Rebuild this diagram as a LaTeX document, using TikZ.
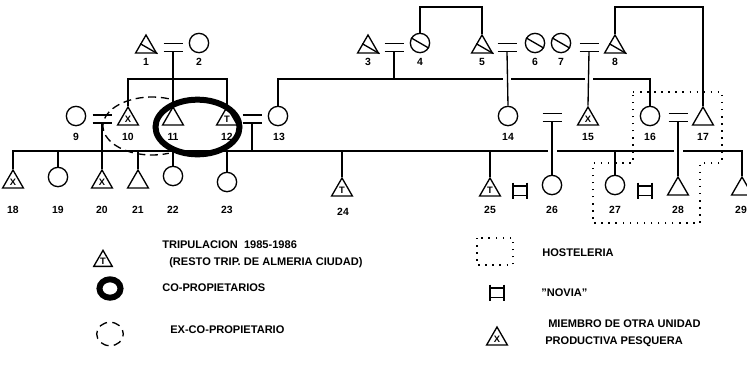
\documentclass[tikz,border=0pt]{standalone}
\usepackage{fontspec}
\setmainfont{Liberation Sans}
\usetikzlibrary{shapes.geometric,calc}
\begin{document}
\begin{tikzpicture}[x=0.75pt,y=-0.75pt,
  ln/.style={line width=1pt},
  tri/.style={draw, line width=1pt, regular polygon, regular polygon sides=3, minimum size=18pt, inner sep=0pt, font=\bfseries\fontsize{7}{7}\selectfont},
  smalltri/.style={tri, minimum size=16pt},
  circ/.style={draw, line width=1pt, circle, minimum size=14.5pt, inner sep=0pt},
  num/.style={font=\bfseries\fontsize{7.8}{8}\selectfont, inner sep=0pt},
  leg/.style={font=\bfseries\fontsize{8.3}{9}\selectfont, anchor=west, inner sep=0pt},
  hostel/.style={line width=1.2pt, dash pattern=on 1.1pt off 4.2pt},
  gapw/.style={white, line width=4pt},
  coprop/.style={line width=4.5pt},
  excoprop/.style={line width=1pt, dash pattern=on 6pt off 3.5pt},
  marr/.pic={\draw[line width=1pt] (-9.5,-4) -- (9.5,-4) (-9.5,4) -- (9.5,4); \coordinate (-b) at (0,4);},
  novia/.pic={\draw[line width=1pt] (-7,-8) -- (-7,8) (7,-8) -- (7,8) (-7,-4.5) -- (7,-4.5) (-7,5) -- (7,5);}
]
\useasboundingbox (0,0) rectangle (747,365);
\newcommand\lowtxt[1]{\raisebox{-1.3pt}{#1}}

% ---------- generation 0 ----------
\node[tri] (t1) at (146,47) {};
\node[circ] (c2) at (199,43) {};
\node[tri] (t3) at (368,47) {};
\node[circ] (c4) at (420,43) {};
\node[tri] (t5) at (482,47) {};
\node[circ] (c6) at (535,43) {};
\node[circ] (c7) at (561,43) {};
\node[tri] (t8) at (615,47) {};
\foreach \n in {t1,t3,t5,t8}{\draw[ln] ($(\n.corner 1)!0.5!(\n.corner 2)$) -- (\n.corner 3);}
\foreach \n in {c4,c6,c7}{\draw[ln] (\n.150) -- (\n.-30);}
\node[num] (l1) at (146,62) {1};
\node[num] (l2) at (199,62) {2};
\node[num] (l3) at (368,62) {3};
\node[num] (l4) at (420,62) {4};
\node[num] (l5) at (482,62) {5};
\node[num] (l6) at (535,62) {6};
\node[num] (l7) at (561,62) {7};
\node[num] (l8) at (615,62) {8};
\pic (m12) at (173,47.5) {marr};
\pic (m34) at (394,47.5) {marr};
\pic (m56) at (507,47.5) {marr};
\pic (m78) at (589,47.5) {marr};

% ---------- generation 1 ----------
\node[circ] (c9) at (76,116) {};
\node[tri] (t10) at (128,119) {\lowtxt{X}};
\node[tri] (t11) at (173,119) {};
\node[tri] (t12) at (227,119) {\lowtxt{T}};
\node[circ] (c13) at (278,116) {};
\node[circ] (c14) at (508,116) {};
\node[tri] (t15) at (588,119) {\lowtxt{X}};
\node[circ] (c16) at (650,116) {};
\node[tri] (t17) at (703,119) {};
\node[num] (l9) at (76,137) {9};
\node[num] (l10) at (128,137) {10};
\node[num] (l11) at (173,137) {11};
\node[num] (l12) at (227,137) {12};
\node[num] (l13) at (279,137) {13};
\node[num] (l14) at (508,137) {14};
\node[num] (l15) at (588,137) {15};
\node[num] (l16) at (650,137) {16};
\node[num] (l17) at (703,137) {17};
\pic (m910) at (102,119) {marr};
\pic (m1213) at (252,119) {marr};
\pic (m1415) at (552,117.5) {marr};
\pic (m1617) at (678,117.5) {marr};

% ---------- generation 2 ----------
\node[tri] (t18) at (13,182) {\lowtxt{X}};
\node[circ] (c19) at (58,177) {};
\node[tri] (t20) at (102,182) {\lowtxt{X}};
\node[tri] (t21) at (138,182) {};
\node[circ] (c22) at (173,176) {};
\node[circ] (c23) at (227,182) {};
\node[tri] (t24) at (342,190) {\lowtxt{T}};
\node[tri] (t25) at (490,190) {\lowtxt{T}};
\node[circ] (c26) at (552,185) {};
\node[circ] (c27) at (615,185) {};
\node[tri] (t28) at (678,189) {};
\node[tri] (t29) at (742,189) {};
\node[num] (l18) at (13,210) {18};
\node[num] (l19) at (58,210) {19};
\node[num] (l20) at (102,210) {20};
\node[num] (l21) at (138,210) {21};
\node[num] (l22) at (173,210) {22};
\node[num] (l23) at (227,210) {23};
\node[num] (l24) at (343,212) {24};
\node[num] (l25) at (490,210) {25};
\node[num] (l26) at (552,210) {26};
\node[num] (l27) at (615,210) {27};
\node[num] (l28) at (678,210) {28};
\node[num] (l29) at (741,210) {29};
\pic (n1) at (520,190.5) {novia};
\pic (n2) at (645,190.5) {novia};

% ---------- connectors ----------
\coordinate (s1) at (173,79);
\coordinate (s2) at (394,79);
\coordinate (s3) at (451,7);
\coordinate (s4) at (660,7);
\coordinate (s5) at (252,151);

\draw[ln] (m12-b) -- (t11.corner 1);
\draw[ln] (t10.corner 1) |- (s1) -| (t12.corner 1);
\draw[ln] (c4.north) |- (s3) -| (t5.corner 1);
\draw[ln] (t8.corner 1) |- (s4) -| (t17.corner 1);
\draw[ln] (m34-b) -- (s2);
\draw[ln] (c13.north) |- (s2) -| (c16.north);
\draw[gapw] (503,79) -- (511,79);
\draw[gapw] (585,79) -- (593,79);
\draw[ln] (m56-b) -- (c14.north);
\draw[ln] (m78-b) -- (t15.corner 1);

\draw[ln] (t18.corner 1) |- (s5) -| (t29.corner 1);
\draw[ln] (m910-b) -- (t20.corner 1);
\draw[ln] (m1213-b) -- (s5);
\foreach \n in {c19,c22,c23,c27}{\draw[ln] (\n.north) -- (\n.north |- s5);}
\foreach \n in {t21,t24,t25}{\draw[ln] (\n.corner 1) -- (\n.corner 1 |- s5);}
\draw[gapw] (547.5,151) -- (556.5,151);
\draw[gapw] (673.5,151) -- (682.5,151);
\draw[ln] (m1415-b) -- (c26.north);
\draw[ln] (m1617-b) -- (t28.corner 1);

% ---------- groupings ----------
\coordinate (dc) at (152,126);
\draw[excoprop] (dc) ++(70:36.75pt and 21.75pt) arc[start angle=70, end angle=290, x radius=36.75pt, y radius=21.75pt];
\coordinate (cc) at (197.5,127);
\draw[coprop] (cc) ellipse [x radius=31.5pt, y radius=20.5pt];
\draw[hostel] (633,92) -- (722,92) -- (722,163) -- (700,163) -- (700,223) -- (593,223) -- (593,163) -- (633,163) -- cycle;

% ---------- legend ----------
\node[smalltri] (k1) at (103,261) {\lowtxt{T}};
\node[leg] (k1a) at (162,245) {TRIPULACION\ \ 1985-1986};
\node[leg] (k1b) at (169,263) {(RESTO TRIP.\ DE ALMERIA CIUDAD)};
\coordinate (k2) at (110,288.5);
\draw[coprop] (k2) ellipse [x radius=7.9pt, y radius=6.9pt];
\node[leg] (k2a) at (162,288) {CO-PROPIETARIOS};
\coordinate (k3) at (110,334);
\draw[excoprop, dash pattern=on 6pt off 4pt, dash phase=3pt] (k3) ellipse [x radius=10pt, y radius=8.8pt];
\node[leg] (k3a) at (170,330) {EX-CO-PROPIETARIO};

\draw[hostel] (477,238) rectangle (513,265);
\node[leg] (k4a) at (542,253) {HOSTELERIA};
\pic (k5) at (497,292.5) {novia};
\node[leg] (k5a) at (541,293) {"NOVIA"};
\node[tri] (k6) at (497,339) {\lowtxt{X}};
\node[leg] (k6a) at (548,324) {MIEMBRO DE OTRA UNIDAD};
\node[leg] (k6b) at (545,342) {PRODUCTIVA PESQUERA};
\end{tikzpicture}
\end{document}
